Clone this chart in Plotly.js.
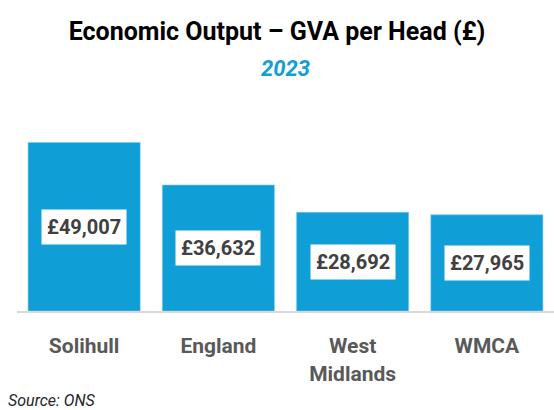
<!DOCTYPE html>
<html>
<head>
<meta charset="utf-8">
<script src="https://cdn.plot.ly/plotly-3.0.1.min.js"></script>
<style>html,body{margin:0;padding:0;background:#fff;}#chart{width:554px;height:410px;}</style>
</head>
<body>
<div id="chart"></div>
<script>
const categories = ["Solihull", "England", "West<br>Midlands", "WMCA"];
const values = [49007, 36632, 28692, 27965];
const valueLabels = ["£49,007", "£36,632", "£28,692", "£27,965"];
const titleText = "Economic Output – GVA per Head (£)";
const subtitleText = "2023";
const sourceText = "Source: ONS";

const FONT = "Roboto, 'Liberation Sans', sans-serif";
const BLUE = "#0f9ed5";

const trace = {
  type: "bar",
  x: categories,
  y: values,
  marker: {color: BLUE, line: {color: "#7cc8ec", width: 0.6}},
  hoverinfo: "skip"
};

const annotations = categories.map((c, i) => ({
  x: c, y: values[i] / 2, xref: "x", yref: "y",
  text: "<b>" + valueLabels[i] + "</b>",
  showarrow: false,
  bgcolor: "#ffffff",
  borderpad: 5,
  font: {family: FONT, size: 20, color: "#404040"}
}));

annotations.push({
  x: 0.5, y: 1, xref: "paper", yref: "paper", yanchor: "middle",
  yshift: 47,
  text: "<b><i>" + subtitleText + "</i></b>",
  showarrow: false,
  font: {family: FONT, size: 22, color: BLUE}
});
annotations.push({
  x: 0, y: 0, xref: "paper", yref: "paper", xanchor: "left", yanchor: "middle",
  xshift: -11, yshift: -89,
  text: "<i>" + sourceText + "</i>",
  showarrow: false,
  font: {family: FONT, size: 16, color: "#262626"}
});

const layout = {
  width: 554, height: 410,
  margin: {l: 17, r: 0, t: 115, b: 99},
  paper_bgcolor: "#ffffff", plot_bgcolor: "#ffffff",
  title: {
    text: "<b>" + titleText + "</b>",
    font: {family: FONT, size: 25, color: "#000000"},
    x: 0.5, xanchor: "center", y: 0.924, yanchor: "middle"
  },
  bargap: 0.165,
  showlegend: false,
  xaxis: {
    showline: true, linecolor: "#d9d9d9", linewidth: 2,
    ticks: "", showgrid: false, zeroline: false,
    tickfont: {family: FONT, size: 21, color: "#595959", weight: "bold"},
    ticklabelstandoff: 15,
    fixedrange: true
  },
  yaxis: {
    range: [0, 57000], visible: false, showgrid: false, zeroline: false, fixedrange: true
  },
  annotations: annotations
};

Plotly.newPlot("chart", [trace], layout, {displayModeBar: false, staticPlot: true});
</script>
</body>
</html>
